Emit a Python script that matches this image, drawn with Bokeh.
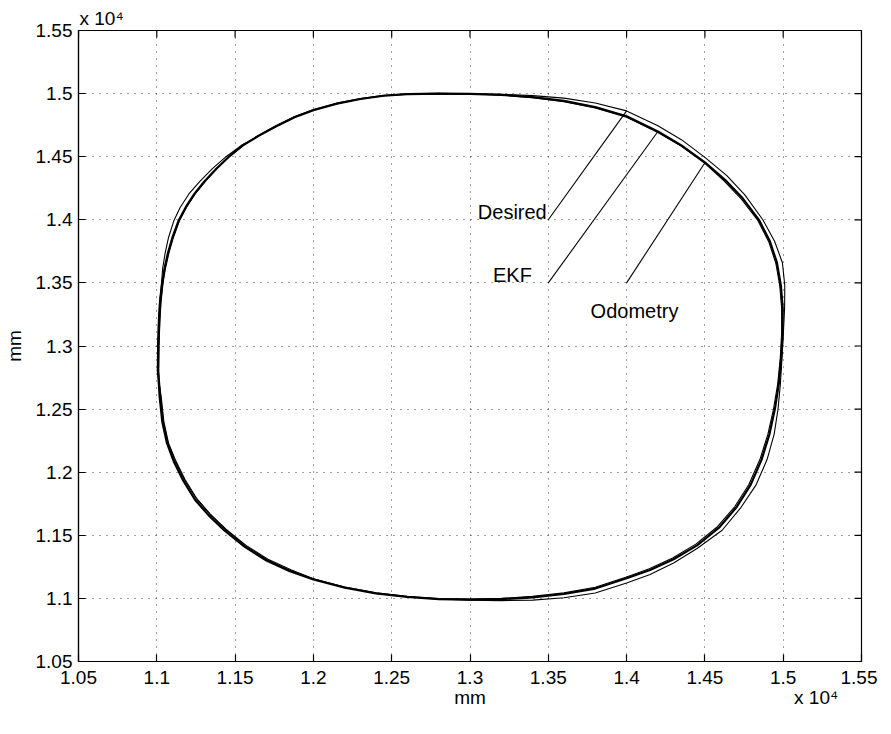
import math
from bokeh.plotting import figure
from bokeh.models import FixedTicker, Label, Range1d, Title, LinearAxis
from bokeh.embed import file_html
from bokeh.resources import INLINE

FONT = "Liberation Sans"

# ---- axis ticks ----
tick_values = [10500, 11000, 11500, 12000, 12500, 13000, 13500, 14000, 14500, 15000, 15500]
tick_labels = ["1.05", "1.1", "1.15", "1.2", "1.25", "1.3", "1.35", "1.4", "1.45", "1.5", "1.55"]
axis_label = "mm"
exponent_text = "x 10\u2074"
# where the x-axis caption and the x-axis exponent sit along the x axis (mm)
x_caption_at = [13000, 15210]
x_caption_text = [axis_label, exponent_text]

# ---- trajectories (mm) ----
ekf_x = [11008, 11010, 11015, 11022, 11035, 11050, 11072, 11100, 11138, 11185, 11240, 11305,
         11380, 11460, 11550, 11650, 11760, 11880, 12000, 12150, 12300, 12450, 12600, 12800,
         13000, 13200, 13400, 13600, 13800, 14000, 14200, 14350, 14500, 14630, 14740, 14845,
         14915, 14960, 14985, 14997, 14996, 14987, 14972, 14947, 14912, 14862, 14792, 14700,
         14590, 14450, 14300, 14150, 14000, 13800, 13600, 13400, 13200, 13000, 12800, 12600,
         12400, 12200, 12000, 11850, 11700, 11560, 11430, 11330, 11245, 11170, 11110, 11065,
         11035, 11018, 11008]
ekf_y = [12800, 13000, 13200, 13350, 13500, 13620, 13740, 13860, 13990, 14100, 14205, 14305,
         14405, 14500, 14590, 14665, 14740, 14812, 14868, 14920, 14957, 14983, 14996, 15000,
         14998, 14990, 14972, 14942, 14893, 14820, 14700, 14590, 14455, 14315, 14172, 14000,
         13830, 13660, 13480, 13300, 13100, 12900, 12700, 12500, 12300, 12100, 11900, 11720,
         11560, 11420, 11310, 11225, 11160, 11078, 11035, 11008, 10994, 10990, 10995, 11012,
         11040, 11085, 11150, 11215, 11300, 11410, 11540, 11660, 11780, 11930, 12080, 12230,
         12400, 12600, 12800]

desired_x = [11003, 11005, 11010, 11017, 11030, 11038, 11054, 11075, 11108, 11150, 11205, 11275,
             11355, 11442, 11540, 11650, 11760, 11880, 12000, 12150, 12300, 12450, 12600, 12800,
             13000, 13200, 13400, 13600, 13800, 14000, 14200, 14350, 14500, 14640, 14755, 14870,
             14945, 14995, 15010, 15009, 15001, 14992, 14982, 14967, 14942, 14897, 14827, 14730,
             14610, 14450, 14300, 14150, 14000, 13800, 13600, 13400, 13200, 13000, 12800, 12600,
             12400, 12200, 12000, 11860, 11710, 11570, 11440, 11342, 11257, 11182, 11122, 11075,
             11045, 11028, 11003]
desired_y = [12800, 13000, 13200, 13350, 13500, 13620, 13740, 13860, 13990, 14100, 14205, 14305,
             14405, 14500, 14590, 14665, 14740, 14812, 14868, 14920, 14957, 14983, 14996, 15000,
             14998, 14995, 14984, 14964, 14925, 14863, 14745, 14635, 14495, 14350, 14197, 14000,
             13830, 13660, 13480, 13300, 13100, 12900, 12700, 12500, 12300, 12100, 11900, 11720,
             11540, 11395, 11280, 11190, 11122, 11043, 11005, 10986, 10982, 10985, 10995, 11012,
             11040, 11087, 11155, 11225, 11310, 11420, 11550, 11668, 11788, 11938, 12088, 12230,
             12400, 12600, 12800]

odometry_x = [11012, 11014, 11020, 11027, 11040, 11056, 11078, 11106, 11144, 11190, 11245, 11310,
              11384, 11463, 11552, 11650, 11760, 11880, 12000, 12150, 12300, 12450, 12600, 12800,
              13000, 13200, 13400, 13600, 13800, 14000, 14200, 14350, 14500, 14622, 14732, 14838,
              14908, 14953, 14978, 14990, 14990, 14981, 14965, 14938, 14902, 14851, 14780, 14690,
              14580, 14442, 14294, 14145, 14000, 13800, 13600, 13400, 13200, 13000, 12800, 12600,
              12400, 12200, 12000, 11850, 11702, 11565, 11437, 11338, 11253, 11178, 11118, 11072,
              11042, 11025, 11012]
odometry_y = [12800, 13000, 13200, 13350, 13500, 13620, 13740, 13860, 13990, 14100, 14205, 14305,
              14405, 14500, 14590, 14670, 14746, 14818, 14873, 14925, 14961, 14986, 14998, 15002,
              14999, 14988, 14968, 14936, 14886, 14812, 14692, 14582, 14448, 14308, 14165, 13995,
              13825, 13655, 13480, 13300, 13100, 12900, 12700, 12500, 12300, 12100, 11900, 11726,
              11568, 11430, 11320, 11235, 11170, 11088, 11044, 11016, 11000, 10994, 10998, 11015,
              11044, 11090, 11156, 11222, 11308, 11418, 11548, 11668, 11788, 11936, 12084, 12232,
              12400, 12600, 12800]

# ---- annotations ----
annot_text = ["Desired", "EKF", "Odometry"]
annot_text_x = [13490, 13395, 13770]
annot_text_y = [14060, 13565, 13280]
annot_align = ["right", "right", "left"]
annot_line_x0 = [13500, 13500, 14000]
annot_line_y0 = [14000, 13500, 13500]
annot_line_x1 = [14000, 14200, 14500]
annot_line_y1 = [14863, 14700, 14452]

x_lo, x_hi = tick_values[0], tick_values[-1]
y_lo, y_hi = tick_values[0], tick_values[-1]

p = figure(width=877, height=718, output_backend="svg", toolbar_location=None,
           x_range=Range1d(x_lo, x_hi), y_range=Range1d(y_lo, y_hi),
           min_border_left=71, min_border_right=16, min_border_top=30, min_border_bottom=57,
           background_fill_color="white", border_fill_color="white")

p.outline_line_color = "black"
p.outline_line_width = 1.2

ticker = FixedTicker(ticks=tick_values)
overrides = {v: s for v, s in zip(tick_values, tick_labels)}

for ax in (p.xaxis[0], p.yaxis[0]):
    ax.ticker = ticker
    ax.major_label_overrides = overrides
    ax.major_tick_in = 7
    ax.major_tick_out = 0
    ax.minor_tick_in = 0
    ax.minor_tick_out = 0
    ax.axis_line_color = "black"
    ax.axis_line_width = 1.2
    ax.major_tick_line_color = "black"
    ax.major_tick_line_width = 1.2
    ax.major_label_text_font = FONT
    ax.major_label_text_font_size = "19px"
    ax.major_label_text_color = "black"

p.xaxis[0].major_label_standoff = 9

p.yaxis[0].major_label_standoff = 6
p.yaxis[0].axis_label = axis_label
p.yaxis[0].axis_label_text_font = FONT
p.yaxis[0].axis_label_text_font_size = "19px"
p.yaxis[0].axis_label_text_font_style = "normal"
p.yaxis[0].axis_label_text_color = "black"
p.yaxis[0].axis_label_standoff = 8

# second row under the x axis: caption "mm" and the exponent "x 10^4"
caption_axis = LinearAxis(
    ticker=FixedTicker(ticks=x_caption_at),
    major_label_overrides={v: s for v, s in zip(x_caption_at, x_caption_text)},
    major_tick_in=0, major_tick_out=0, minor_tick_in=0, minor_tick_out=0,
    axis_line_color=None, major_tick_line_color=None, minor_tick_line_color=None,
    major_label_standoff=0, major_label_text_font=FONT, major_label_text_font_size="19px",
    major_label_text_color="black")
p.add_layout(caption_axis, "below")

# inward tick marks on the top and right edges
n = len(tick_values)
p.ray(x=tick_values, y=[y_hi] * n, length=7, length_units="screen", angle=-math.pi / 2,
      line_color="black", line_width=1.2)
p.ray(x=[x_hi] * n, y=tick_values, length=7, length_units="screen", angle=math.pi,
      line_color="black", line_width=1.2)

p.xgrid.ticker = ticker
p.ygrid.ticker = ticker
for g in (p.xgrid[0], p.ygrid[0]):
    g.grid_line_color = "black"
    g.grid_line_alpha = 0.75
    g.grid_line_dash = "1 6"
    g.grid_line_width = 1

p.line(desired_x, desired_y, line_color="black", line_width=1.1)
p.line(odometry_x, odometry_y, line_color="black", line_width=1.1)
p.line(ekf_x, ekf_y, line_color="black", line_width=2.2)

p.segment(x0=annot_line_x0, y0=annot_line_y0, x1=annot_line_x1, y1=annot_line_y1,
          line_color="black", line_width=1.1)

for t, x, y, a in zip(annot_text, annot_text_x, annot_text_y, annot_align):
    p.add_layout(Label(x=x, y=y, text=t, text_align=a, text_baseline="alphabetic",
                       text_font=FONT, text_font_size="20px", text_color="black"))

# exponent marker above the y axis, as a left-aligned title
p.add_layout(Title(text=exponent_text, align="left", offset=1, standoff=3,
                   text_font=FONT, text_font_size="19px", text_font_style="normal",
                   text_color="black"), "above")

open("out.html", "w").write(file_html(p, INLINE))
